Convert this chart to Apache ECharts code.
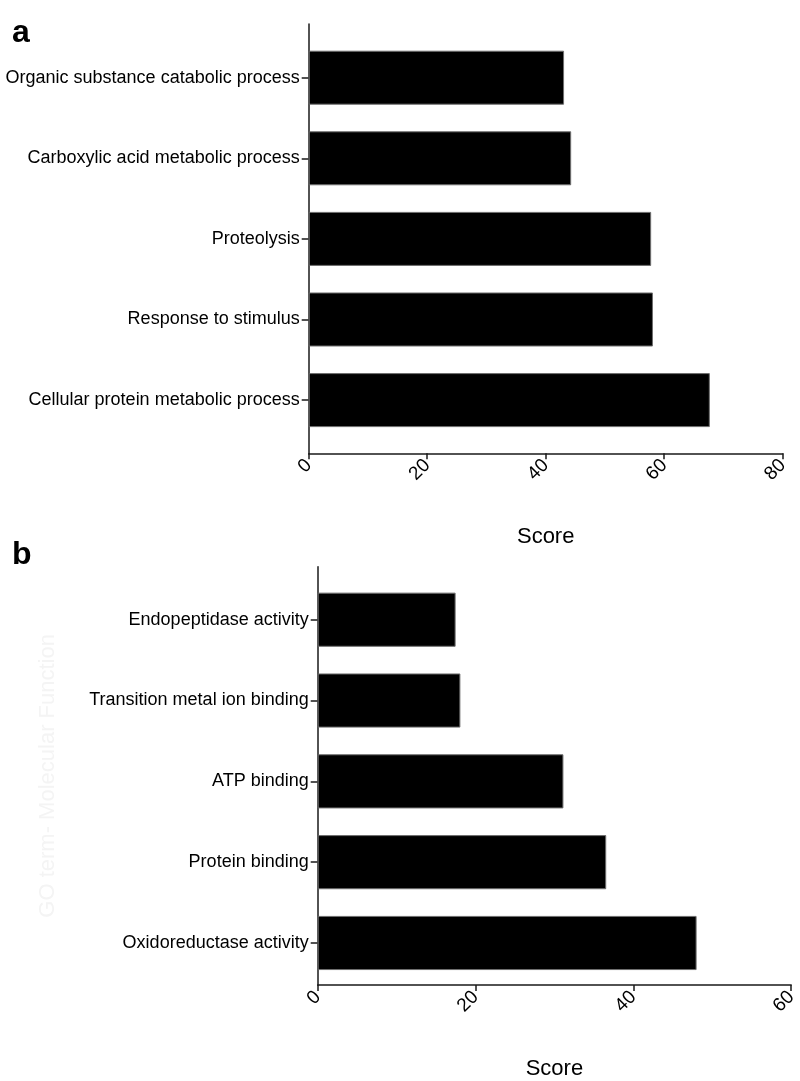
<!DOCTYPE html>
<html>
<head>
<meta charset="utf-8">
<script src="https://cdn.jsdelivr.net/npm/echarts@6/dist/echarts.min.js"></script>
<style>
html,body{margin:0;padding:0;background:#fff;}
#chart{width:800px;height:1081px;}
</style>
</head>
<body>
<div id="chart"></div>
<script>
// Panel a – biological process
var catsA = ['Organic substance catabolic process', 'Carboxylic acid metabolic process', 'Proteolysis', 'Response to stimulus', 'Cellular protein metabolic process'];
var valsA = [43.1, 44.3, 57.8, 58.1, 67.7];
var ticksA = {min: 0, max: 80, interval: 20};

// Panel b – molecular function
var catsB = ['Endopeptidase activity', 'Transition metal ion binding', 'ATP binding', 'Protein binding', 'Oxidoreductase activity'];
var valsB = [17.4, 18.0, 31.0, 36.4, 47.8];
var ticksB = {min: 0, max: 60, interval: 20};

var xTitle = 'Score';
var watermarkB = 'GO term- Molecular Function';

var FONT = "'Liberation Sans', Arial, Helvetica, sans-serif";
var AXIS_COLOR = '#1a1a1a';

var chart = echarts.init(document.getElementById('chart'), null, {renderer: 'canvas'});

function frameX(gi, t) {
  return {
    type: 'value', gridIndex: gi, min: t.min, max: t.max, interval: t.interval,
    name: xTitle, nameLocation: 'middle', nameGap: 73,
    nameTextStyle: {fontFamily: FONT, fontSize: 22, color: '#000'},
    axisLine: {show: true, lineStyle: {color: AXIS_COLOR, width: 1.5}},
    axisTick: {show: true, length: 6, lineStyle: {color: AXIS_COLOR, width: 1.5}},
    axisLabel: {rotate: 45, fontFamily: FONT, fontSize: 19, color: '#000', margin: 9},
    splitLine: {show: false}
  };
}
function hiddenX(gi, t) {
  return {type: 'value', gridIndex: gi, min: t.min, max: t.max, interval: t.interval, show: false, splitLine: {show: false}};
}
function frameY(gi, name) {
  return {
    type: 'value', gridIndex: gi, min: 0, max: 1,
    name: name || '', nameLocation: 'middle', nameRotate: 90, nameGap: 259,
    nameTextStyle: {fontFamily: FONT, fontSize: 22, color: '#f4f4f4'},
    axisLine: {show: true, lineStyle: {color: AXIS_COLOR, width: 1.5}},
    axisTick: {show: false}, axisLabel: {show: false}, splitLine: {show: false}
  };
}
function catY(gi, cats) {
  return {
    type: 'category', gridIndex: gi, data: cats, inverse: true,
    axisLine: {show: false},
    axisTick: {show: true, length: 7, alignWithLabel: true, lineStyle: {color: AXIS_COLOR, width: 1.5}},
    axisLabel: {fontFamily: FONT, fontSize: 18, color: '#000', margin: 9},
    splitLine: {show: false}
  };
}

var option = {
  backgroundColor: '#fff',
  animation: false,
  title: [
    {text: 'a', left: 7, top: 12, textStyle: {fontFamily: FONT, fontSize: 32, fontWeight: 'bold', color: '#000'}},
    {text: 'b', left: 7, top: 534, textStyle: {fontFamily: FONT, fontSize: 32, fontWeight: 'bold', color: '#000'}}
  ],
  grid: [
    {left: 308.7, right: 17.3, top: 24, bottom: 627.7},      // frame a
    {left: 308.7, right: 17.3, top: 37.4, bottom: 640.6},    // bars a
    {left: 317.7, right: 6.7, top: 566.7, bottom: 84.3},     // frame b
    {left: 317.7, right: 6.7, top: 579.3, bottom: 97.6}      // bars b
  ],
  xAxis: [frameX(0, ticksA), hiddenX(1, ticksA), frameX(2, ticksB), hiddenX(3, ticksB)],
  yAxis: [frameY(0, ''), catY(1, catsA), frameY(2, watermarkB), catY(3, catsB)],
  series: [
    {type: 'bar', xAxisIndex: 1, yAxisIndex: 1, data: valsA, barCategoryGap: '33%',
     itemStyle: {color: '#000', borderColor: '#6e6e6e', borderWidth: 1}},
    {type: 'bar', xAxisIndex: 3, yAxisIndex: 3, data: valsB, barCategoryGap: '33%',
     itemStyle: {color: '#000', borderColor: '#6e6e6e', borderWidth: 1}}
  ]
};
chart.setOption(option);
</script>
</body>
</html>
